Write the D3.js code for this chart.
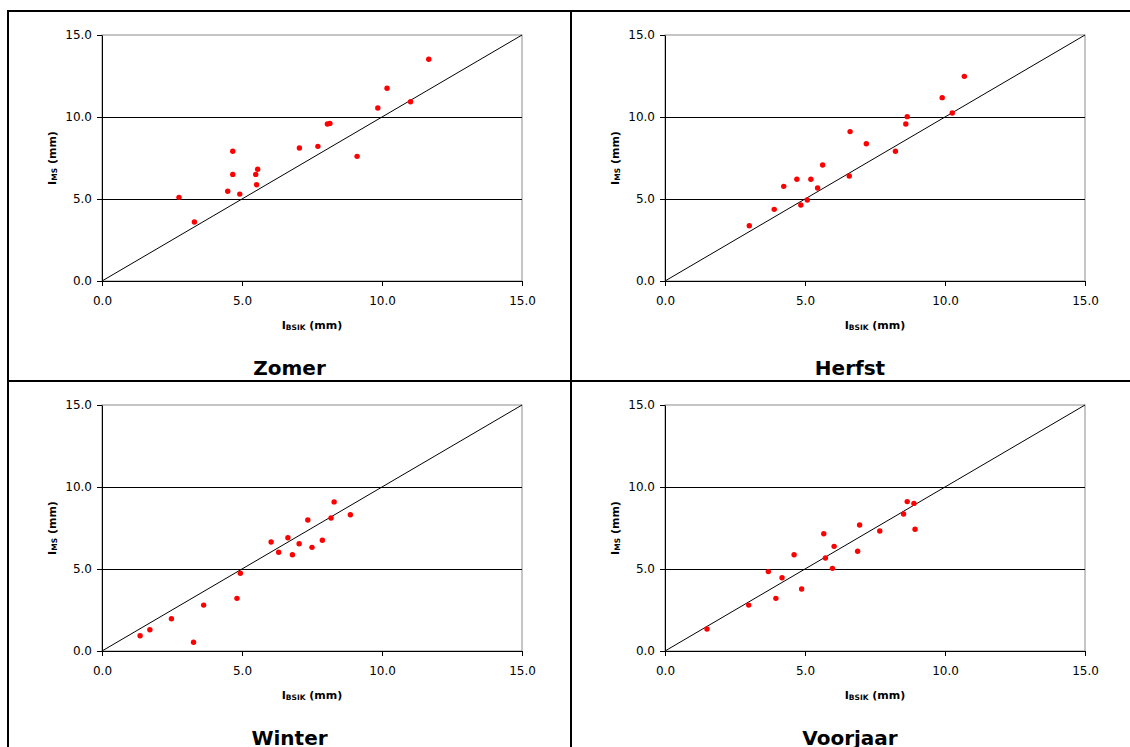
<!DOCTYPE html>
<html>
<head>
<meta charset="utf-8">
<script src="https://cdn.jsdelivr.net/npm/d3@7"></script>
<style>
  body { margin: 0; background: #fff; }
  svg { font-family: "DejaVu Sans", Verdana, sans-serif; }
</style>
</head>
<body>
<div id="chart"></div>
<script>
// data: I_BSIK (x) and I_MS (y) in mm
var zomerBsik = [2.75, 3.30, 4.49, 4.67, 4.67, 4.92, 5.49, 5.56, 5.52, 7.05, 7.71, 8.05, 8.14, 9.11, 9.85, 10.18, 11.02, 11.67];
var zomerMs   = [5.10, 3.60, 5.47, 7.91, 6.50, 5.30, 6.50, 6.81, 5.87, 8.11, 8.21, 9.57, 9.61, 7.60, 10.55, 11.75, 10.93, 13.52];

var herfstBsik = [3.01, 3.90, 4.24, 4.71, 4.85, 5.08, 5.21, 5.45, 5.63, 6.58, 6.61, 7.19, 8.23, 8.60, 8.65, 9.90, 10.26, 10.69];
var herfstMs   = [3.37, 4.37, 5.77, 6.20, 4.63, 4.94, 6.20, 5.67, 7.07, 6.40, 9.11, 8.37, 7.91, 9.57, 10.02, 11.18, 10.24, 12.48];

var winterBsik = [1.36, 1.71, 2.48, 3.27, 3.63, 4.82, 4.94, 6.04, 6.31, 6.64, 6.80, 7.04, 7.35, 7.50, 7.87, 8.18, 8.29, 8.87];
var winterMs   = [0.93, 1.30, 1.97, 0.53, 2.80, 3.21, 4.74, 6.65, 6.02, 6.91, 5.87, 6.54, 7.99, 6.32, 6.75, 8.11, 9.09, 8.31];

var voorjaarBsik = [1.50, 2.99, 3.69, 3.96, 4.18, 4.61, 4.88, 5.67, 5.73, 5.98, 6.04, 6.88, 6.95, 7.67, 8.52, 8.65, 8.89, 8.93];
var voorjaarMs   = [1.34, 2.80, 4.84, 3.21, 4.47, 5.87, 3.78, 7.15, 5.67, 5.04, 6.38, 6.08, 7.68, 7.32, 8.35, 9.11, 9.00, 7.42];

var seasons = ["Zomer", "Herfst", "Winter", "Voorjaar"];
var tickValues = [0, 5, 10, 15];
var lineOfEquality = [0, 15];

//svg size
var svgWidth = 1130;
var svgHeight = 747;

var svg = d3.select("#chart").append("svg")
    .attr("width", svgWidth)
    .attr("height", svgHeight);

// frame of the table around the four charts
var frame = svg.append("g")
    .attr("stroke", "#000")
    .attr("stroke-width", 2);
frame.append("line").attr("x1", 8).attr("y1", 11).attr("x2", svgWidth).attr("y2", 11);
frame.append("line").attr("x1", 8).attr("y1", 10).attr("x2", 8).attr("y2", svgHeight);
frame.append("line").attr("x1", 571).attr("y1", 10).attr("x2", 571).attr("y2", svgHeight);
frame.append("line").attr("x1", 8).attr("y1", 381).attr("x2", svgWidth).attr("y2", 381);

// plot area positions of each panel
var panels = [
    {name: seasons[0], xs: zomerBsik, ys: zomerMs, left: 102, top: 35},
    {name: seasons[1], xs: herfstBsik, ys: herfstMs, left: 665, top: 35},
    {name: seasons[2], xs: winterBsik, ys: winterMs, left: 102, top: 405},
    {name: seasons[3], xs: voorjaarBsik, ys: voorjaarMs, left: 665, top: 405}
];

var width = 420;
var height = 246;
var fmt = d3.format(".1f");

panels.forEach(function(p) {

    var g = svg.append("g")
        .attr("transform", `translate(${p.left}, ${p.top})`);

    var xScale = d3.scaleLinear().domain([0, 15]).range([0, width]);
    var yScale = d3.scaleLinear().domain([0, 15]).range([height, 0]);

    // grey plot border (top and right)
    g.append("rect")
        .attr("x", 0)
        .attr("y", 0)
        .attr("width", width)
        .attr("height", height)
        .attr("fill", "none")
        .attr("stroke", "#8c8c8c")
        .attr("stroke-width", 1);

    // horizontal gridlines
    g.selectAll(".grid")
        .data(tickValues.filter(d => d > 0 && d < 15))
        .enter()
        .append("line")
        .attr("x1", 0)
        .attr("x2", width)
        .attr("y1", d => Math.round(yScale(d)) + 0.5)
        .attr("y2", d => Math.round(yScale(d)) + 0.5)
        .attr("stroke", "#000")
        .attr("stroke-width", 1);

    // axes
    var xAxis = d3.axisBottom(xScale)
        .tickValues(tickValues)
        .tickFormat(fmt)
        .tickSize(5)
        .tickSizeOuter(0)
        .tickPadding(10);

    var yAxis = d3.axisLeft(yScale)
        .tickValues(tickValues)
        .tickFormat(fmt)
        .tickSize(5)
        .tickSizeOuter(0)
        .tickPadding(5);

    var xg = g.append("g")
        .attr("transform", `translate(0, ${height})`)
        .call(xAxis);

    var yg = g.append("g")
        .call(yAxis);

    [xg, yg].forEach(function(a) {
        a.selectAll("text")
            .attr("font-family", "'DejaVu Sans', Verdana, sans-serif")
            .attr("font-size", "12px")
            .attr("fill", "#000");
        a.selectAll("line, path").attr("stroke", "#000");
    });

    // 1:1 line
    g.append("line")
        .attr("x1", xScale(lineOfEquality[0]))
        .attr("y1", yScale(lineOfEquality[0]))
        .attr("x2", xScale(lineOfEquality[1]))
        .attr("y2", yScale(lineOfEquality[1]))
        .attr("stroke", "#000")
        .attr("stroke-width", 1);

    // points
    g.selectAll("circle")
        .data(p.xs.map((x, i) => [x, p.ys[i]]))
        .enter()
        .append("circle")
        .attr("cx", d => xScale(d[0]))
        .attr("cy", d => yScale(d[1]))
        .attr("r", 2.7)
        .attr("fill", "#ff0000");

    // x axis label
    var xLabel = g.append("text")
        .attr("x", width / 2)
        .attr("y", height + 48)
        .attr("text-anchor", "middle")
        .attr("font-weight", "bold")
        .attr("font-size", "11px");
    xLabel.append("tspan").text("I");
    xLabel.append("tspan").attr("font-size", "7.5px").attr("dy", 1).text("BSIK");
    xLabel.append("tspan").attr("dy", -1).text(" (mm)");

    // y axis label
    var yLabel = g.append("text")
        .attr("transform", `translate(-50, ${height / 2}) rotate(-90)`)
        .attr("x", 0)
        .attr("y", 4)
        .attr("text-anchor", "middle")
        .attr("font-weight", "bold")
        .attr("font-size", "11px");
    yLabel.append("tspan").text("I");
    yLabel.append("tspan").attr("font-size", "7.5px").attr("dy", 1).text("MS");
    yLabel.append("tspan").attr("dy", -1).text(" (mm)");

    // season title
    g.append("text")
        .attr("x", (p.left < 500 ? 289.5 : 850) - p.left)
        .attr("y", height + 94)
        .attr("text-anchor", "middle")
        .attr("font-weight", "bold")
        .attr("font-size", "20px")
        .text(p.name);
});
</script>
</body>
</html>
